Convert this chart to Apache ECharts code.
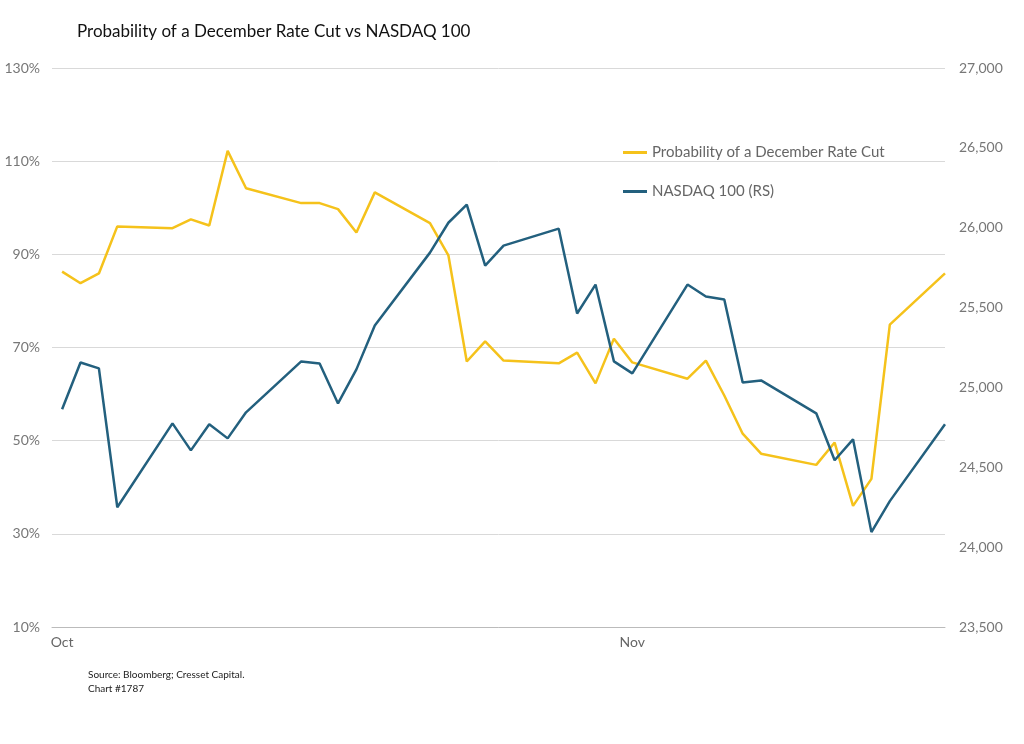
<!DOCTYPE html>
<html>
<head>
<meta charset="utf-8">
<title>Probability of a December Rate Cut vs NASDAQ 100</title>
<script src="https://cdn.jsdelivr.net/npm/echarts@6/dist/echarts.min.js"></script>
<style>body{margin:0;background:#fff}#chart{width:1024px;height:744px}</style>
</head>
<body>
<div id="chart"></div>
<script>
// day offsets from Oct 1
var days = [0,1,2,3,6,7,8,9,10,13,14,15,16,17,20,21,22,23,24,27,28,29,30,31,34,35,36,37,38,41,42,43,44,45,48];
var probCut = [86.3,83.8,85.9,96.0,95.6,97.5,96.2,112.2,104.2,101.0,101.0,99.7,94.7,103.3,96.7,89.8,67.0,71.3,67.2,66.6,68.9,62.3,71.9,66.8,63.3,67.2,59.7,51.5,47.2,44.8,49.6,36.0,41.8,74.9,85.9];
var nasdaq = [24863,25156,25119,24250,24775,24606,24769,24681,24844,25163,25150,24900,25113,25388,25844,26031,26144,25763,25888,25994,25463,25644,25163,25088,25644,25569,25550,25031,25044,24838,24544,24675,24094,24288,24769];
var monthTicks = [0, 31];
var monthNames = {0: 'Oct', 31: 'Nov'};

function pairs(vals) { return days.map(function (d, i) { return [d, vals[i]]; }); }

var font = 'Lato, "Noto Sans", sans-serif';
var chart = echarts.init(document.getElementById('chart'));
chart.setOption({
    animation: false,
    textStyle: {fontFamily: font},
    title: {text: 'Probability of a December Rate Cut vs NASDAQ 100', left: 72, top: 18,
        textStyle: {fontSize: 17, fontWeight: 'normal', color: '#111', fontFamily: font}},
    graphic: [{type: 'text', left: 88, top: 668,
        style: {text: 'Source: Bloomberg; Cresset Capital.\nChart #1787', fontSize: 10, lineHeight: 14, fill: '#222', fontFamily: font}}],
    legend: {orient: 'vertical', left: 618, top: 140, itemGap: 24, itemWidth: 24, itemHeight: 3,
        icon: 'rect', textStyle: {fontSize: 15, color: '#666'},
        data: ['Probability of a December Rate Cut', 'NASDAQ 100 (RS)']},
    grid: {left: 52, right: 79, top: 68, bottom: 117},
    xAxis: {type: 'value', min: -0.55, max: 48,
        splitLine: {show: false},
        axisLine: {lineStyle: {color: '#bbb'}},
        axisTick: {show: false},
        axisLabel: {customValues: monthTicks, color: '#666', fontSize: 14,
            formatter: function (v) { return monthNames[v] || ''; }}},
    yAxis: [{type: 'value', min: 10, max: 130, interval: 20,
        axisLabel: {formatter: '{value}%', color: '#777', fontSize: 14, margin: 12},
        axisLine: {show: false}, axisTick: {show: false},
        splitLine: {lineStyle: {color: '#d9d9d9'}}},
        {type: 'value', min: 23500, max: 27000, interval: 500,
        axisLabel: {color: '#777', fontSize: 14, margin: 14,
            formatter: function (v) { return v.toLocaleString('en-US'); }},
        axisLine: {show: false}, axisTick: {show: false}, splitLine: {show: false}}],
    series: [
        {name: 'Probability of a December Rate Cut', type: 'line', data: pairs(probCut),
            showSymbol: false, color: '#F5C21B', lineStyle: {width: 2.5}},
        {name: 'NASDAQ 100 (RS)', type: 'line', yAxisIndex: 1, data: pairs(nasdaq),
            showSymbol: false, color: '#23607E', lineStyle: {width: 2.5}}
    ]
});
</script>
</body>
</html>
